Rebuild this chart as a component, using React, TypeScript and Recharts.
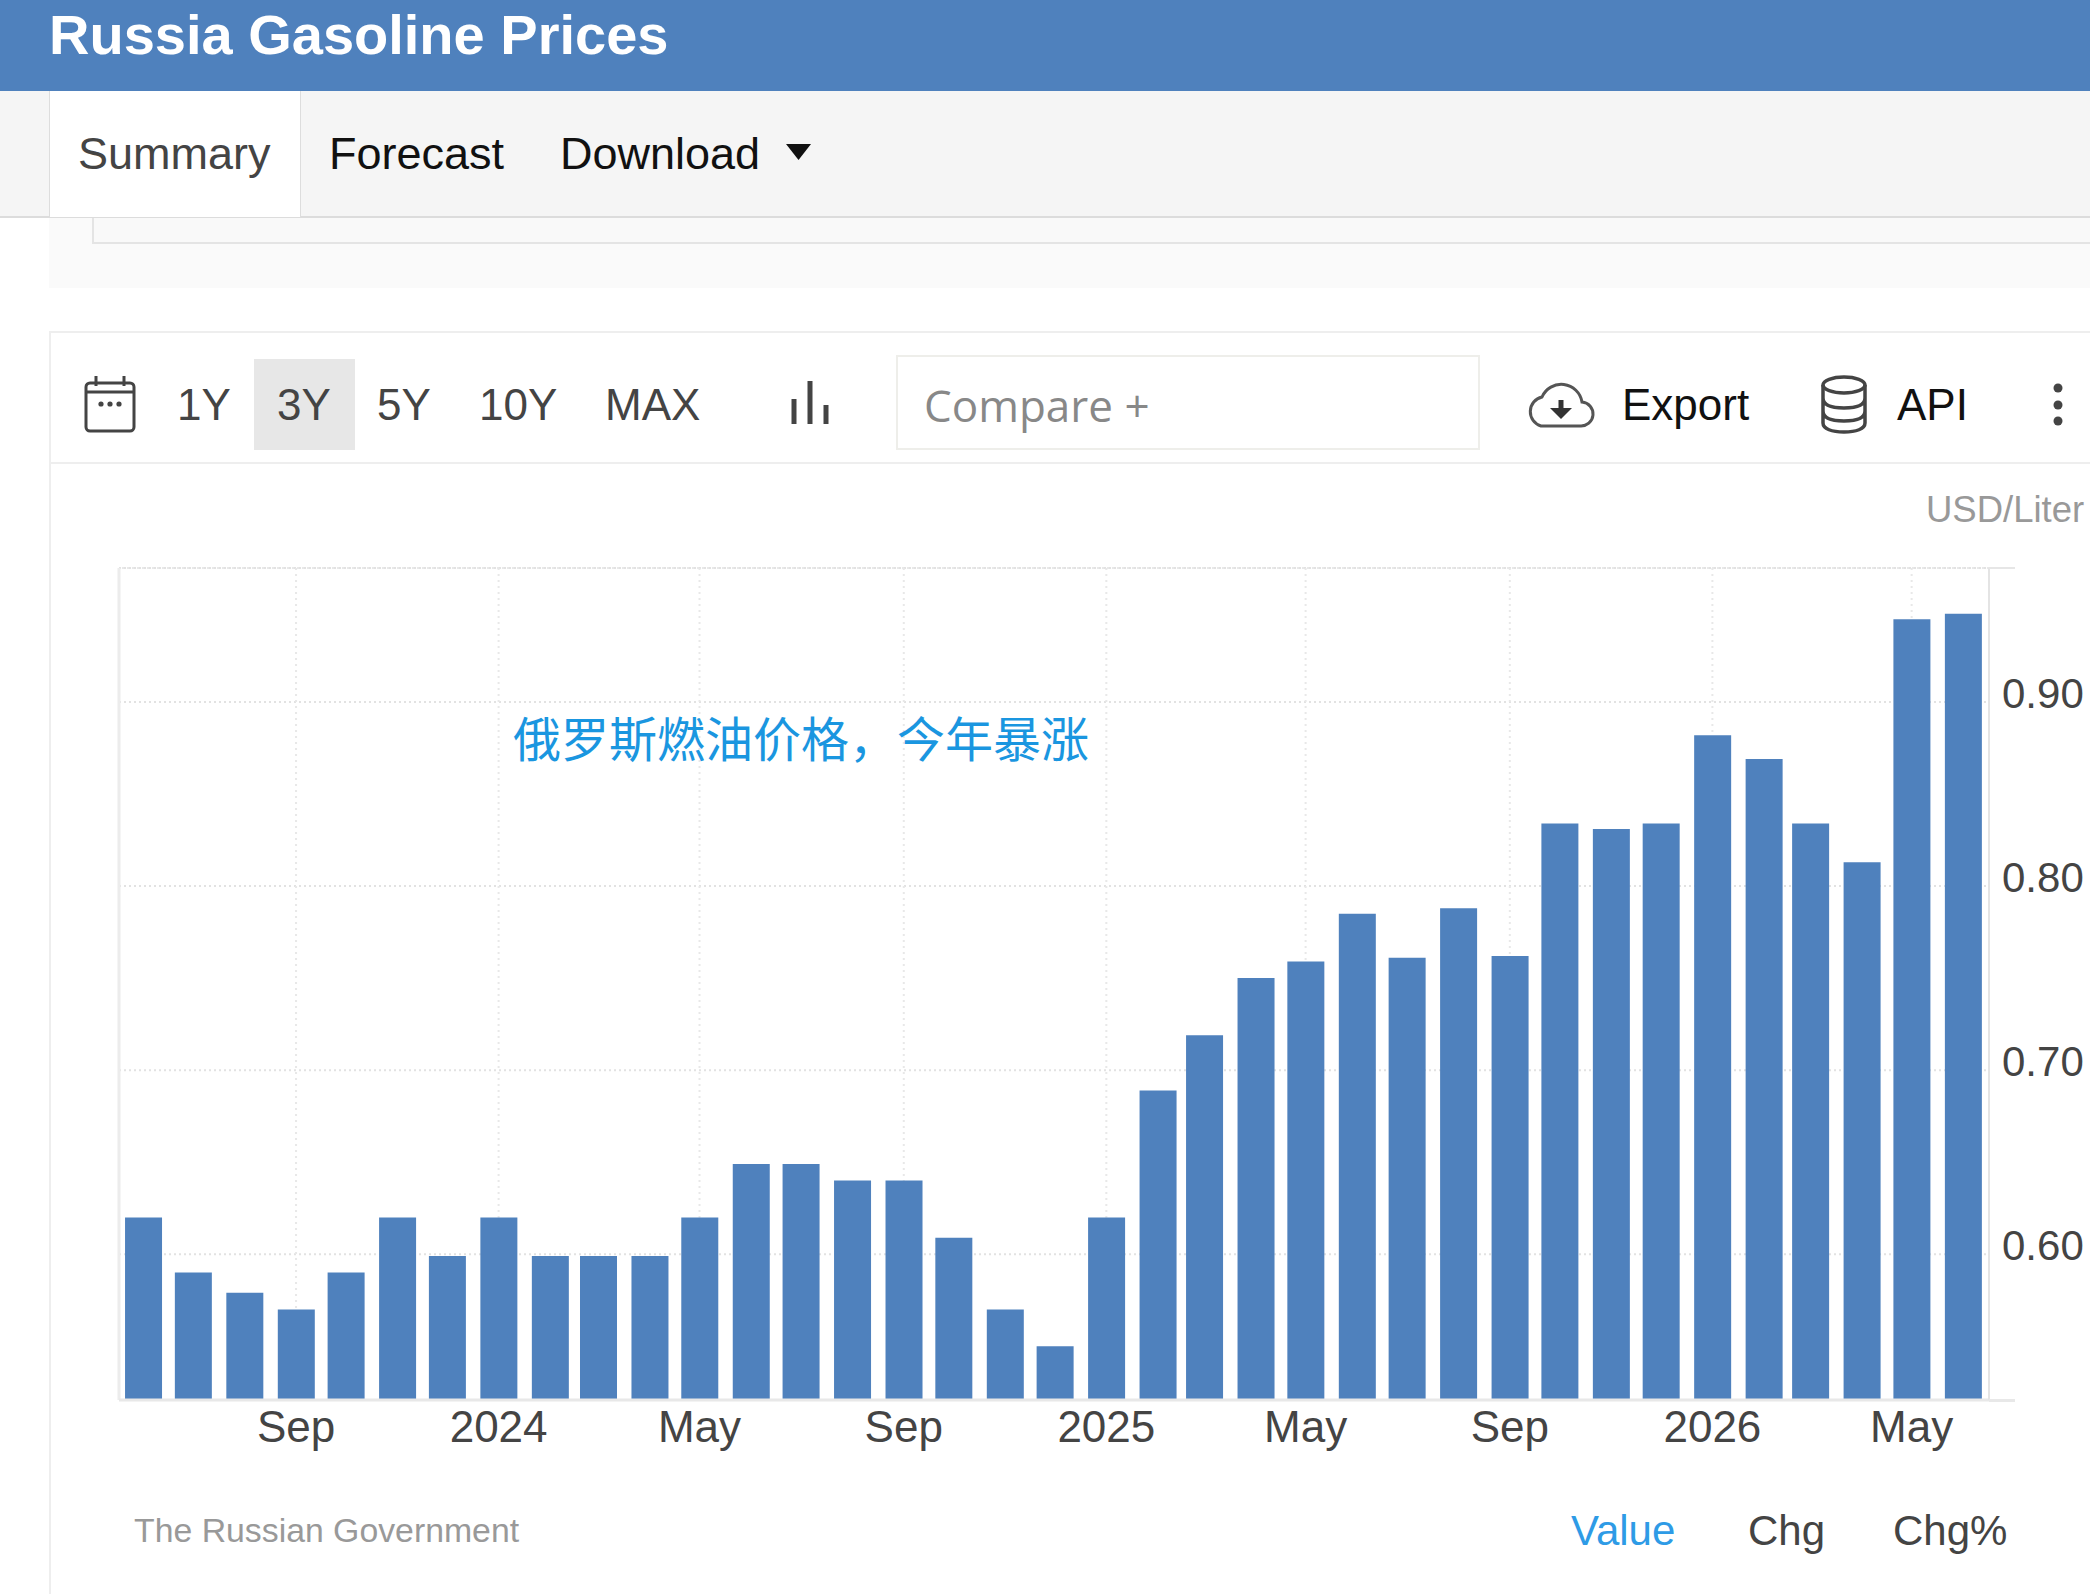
import { BarChart, Bar, XAxis, YAxis, CartesianGrid, ReferenceLine } from 'recharts';

const months = [
  '2023-06-01', '2023-07-01', '2023-08-01', '2023-09-01', '2023-10-01', '2023-11-01', '2023-12-01',
  '2024-01-01', '2024-02-01', '2024-03-01', '2024-04-01', '2024-05-01', '2024-06-01', '2024-07-01',
  '2024-08-01', '2024-09-01', '2024-10-01', '2024-11-01', '2024-12-01', '2025-01-01', '2025-02-01',
  '2025-03-01', '2025-04-01', '2025-05-01', '2025-06-01', '2025-07-01', '2025-08-01', '2025-09-01',
  '2025-10-01', '2025-11-01', '2025-12-01', '2026-01-01', '2026-02-01', '2026-03-01', '2026-04-01',
  '2026-05-01', '2026-06-01',
];

const prices = [
  0.62, 0.59, 0.579, 0.57, 0.59, 0.62, 0.599, 0.62, 0.599, 0.599, 0.599, 0.62, 0.649,
  0.649, 0.64, 0.64, 0.609, 0.57, 0.55, 0.62, 0.689, 0.719, 0.75, 0.759, 0.785, 0.761,
  0.788, 0.762, 0.834, 0.831, 0.834, 0.882, 0.869, 0.834, 0.813, 0.945, 0.948,
];

const tickDates = ['2023-09-01', '2024-01-01', '2024-05-01', '2024-09-01', '2025-01-01', '2025-05-01', '2025-09-01', '2026-01-01', '2026-05-01'];
const tickLabels = ['Sep', '2024', 'May', 'Sep', '2025', 'May', 'Sep', '2026', 'May'];
const yTicks = [0.6, 0.7, 0.8, 0.9];
const yDomain = [0.5208, 0.9728];
const xDomainDates = ['2023-05-17T09:00:00Z', '2026-06-16T14:00:00Z'];

const ts = (d: string) => new Date(d).getTime();
const chartData = months.map((m, i) => ({ time: ts(m), price: prices[i] }));
const xTicks = tickDates.map(ts);

const SANS = '"Liberation Sans", Arial, sans-serif';

// absolutely placed text, positioned by its baseline
const Label = ({ x, base, size, color = '#444', weight = 400, font = SANS, ratio = 0.8465, children }: any) => (
  <span
    style={{
      position: 'absolute', left: x, top: base - size * ratio, fontSize: size, lineHeight: `${size}px`,
      color, fontWeight: weight, fontFamily: font, whiteSpace: 'nowrap',
    }}
  >
    {children}
  </span>
);

const Box = ({ x, y, w, h, style }: any) => (
  <div style={{ position: 'absolute', left: x, top: y, width: w, height: h, ...style }} />
);

const Icons = () => (
  <svg width={2090} height={500} style={{ position: 'absolute', left: 0, top: 0 }} fill="none">
    {/* triangle */}
    <path d="M786 144 L811 144 L798.5 160 Z" fill="#111" />
    {/* calendar */}
    <rect x={86} y={383} width={48} height={48} rx={4} stroke="#444" strokeWidth={3} />
    <path d="M86 392 H134 M96 376 V386 M124 376 V386" stroke="#444" strokeWidth={3} />
    <circle cx={101} cy={404} r={2.6} fill="#444" />
    <circle cx={110} cy={404} r={2.6} fill="#444" />
    <circle cx={119} cy={404} r={2.6} fill="#444" />
    {/* bar type */}
    <path d="M794 399 V424 M810 381 V424 M826 405 V424" stroke="#444" strokeWidth={5} />
    {/* cloud */}
    <path d="M1541 426 H1580 A12 12 0 0 0 1582 402 A21 21 0 0 0 1542 397 A15 15 0 0 0 1541 426 Z" stroke="#555" strokeWidth={3} />
    <path d="M1561 400 V410" stroke="#333" strokeWidth={5} />
    <path d="M1550 408 H1572 L1561 419 Z" fill="#333" />
    {/* database */}
    <ellipse cx={1844} cy={385} rx={21} ry={8} stroke="#444" strokeWidth={3.5} />
    <path
      d="M1823 385 V423 C1823 429 1832 432 1844 432 C1856 432 1865 429 1865 423 V385 M1823 398 C1823 405 1832 408 1844 408 C1856 408 1865 405 1865 398 M1823 411 C1823 418 1832 421 1844 421 C1856 421 1865 418 1865 411"
      stroke="#444" strokeWidth={3.5}
    />
    {/* menu dots */}
    <circle cx={2058} cy={388} r={4.5} fill="#444" />
    <circle cx={2058} cy={405} r={4.5} fill="#444" />
    <circle cx={2058} cy={421} r={4.5} fill="#444" />
  </svg>
);

const App = () => (
  <div style={{ position: 'absolute', left: 0, top: 0, width: 2090, height: 1594, overflow: 'hidden', background: '#fff' }}>
    {/* page chrome */}
    <Box x={0} y={0} w={2090} h={91} style={{ background: '#4f81bd' }} />
    <Box x={0} y={91} w={2090} h={127} style={{ background: '#f5f5f5', borderBottom: '2px solid #dcdcdc', boxSizing: 'border-box' }} />
    <Box x={49} y={91} w={252} h={126} style={{ background: '#fff', borderLeft: '1px solid #ddd', borderRight: '1px solid #ddd', boxSizing: 'border-box' }} />
    <Box x={49} y={218} w={2041} h={70} style={{ background: '#fafafa' }} />
    <Box x={92} y={218} w={1998} h={26} style={{ background: '#f9f9f9', borderLeft: '2px solid #e4e4e4', borderBottom: '2px solid #e4e4e4', boxSizing: 'border-box' }} />
    <Box x={49} y={331} w={2041} h={133} style={{ borderTop: '2px solid #eee', borderBottom: '2px solid #eee', boxSizing: 'border-box' }} />
    <Box x={49} y={331} w={2} h={1263} style={{ background: '#eee' }} />
    <Box x={254} y={359} w={101} h={91} style={{ background: '#e7e7e7' }} />
    <Box x={896} y={355} w={584} h={95} style={{ border: '2px solid #eeeeea', boxSizing: 'border-box' }} />

    <Label x={49} base={54} size={56} color="#fff" weight={700}>Russia Gasoline Prices</Label>
    <Label x={78} base={169} size={45} color="#444">Summary</Label>
    <Label x={329} base={169} size={45} color="#111">Forecast</Label>
    <Label x={560} base={169} size={45} color="#111">Download</Label>
    <Label x={177} base={420} size={44}>1Y</Label>
    <Label x={277} base={420} size={44}>3Y</Label>
    <Label x={377} base={420} size={44}>5Y</Label>
    <Label x={479} base={420} size={44}>10Y</Label>
    <Label x={605} base={420} size={44}>MAX</Label>
    <Label x={924} base={422} size={44} color="#888" font='"Open Sans", sans-serif' ratio={0.888}>Compare +</Label>
    <Label x={1622} base={420} size={44} color="#111">Export</Label>
    <Label x={1897} base={420} size={44} color="#111">API</Label>
    <Label x={1926} base={523} size={36.5} color="#999">USD/Liter</Label>
    <Icons />

    {/* chart */}
    <div style={{ position: 'absolute', left: 0, top: 0 }}>
      <BarChart width={2090} height={1594} data={chartData} margin={{ top: 568, right: 1, bottom: 94, left: 119 }}>
        <CartesianGrid vertical={false} stroke="#e2e2e2" strokeWidth={2} strokeDasharray="2 3" />
        <CartesianGrid horizontal={false} stroke="#e8e8e8" strokeWidth={2} strokeDasharray="2 4" />
        <XAxis
          dataKey="time"
          type="number"
          scale="time"
          domain={xDomainDates.map(ts)}
          ticks={xTicks}
          tickFormatter={(t: number) => tickLabels[xTicks.indexOf(t)]}
          height={100}
          interval={0}
          tickLine={false}
          tickSize={0}
          tickMargin={11}
          axisLine={{ stroke: '#e8e8e8', strokeWidth: 3 }}
          tick={{ fontSize: 44, fill: '#444', fontFamily: SANS }}
        />
        <YAxis
          orientation="right"
          domain={yDomain}
          ticks={yTicks}
          allowDataOverflow
          width={100}
          tickLine={false}
          tickSize={0}
          tickMargin={13}
          tickFormatter={(v: number) => v.toFixed(2)}
          axisLine={{ stroke: '#e4e4e4', strokeWidth: 2 }}
          tick={{ fontSize: 42, fill: '#444', fontFamily: SANS, dy: -9 }}
        />
        <ReferenceLine y={yDomain[1]} stroke="#e8e8e8" strokeWidth={2} strokeDasharray="2 3" />
        <ReferenceLine x={ts(xDomainDates[0])} stroke="#ececec" strokeWidth={3} />
        <Bar dataKey="price" fill="#4f81bd" barSize={37} isAnimationActive={false} />
      </BarChart>
    </div>

    <Box x={1989} y={567} w={26} h={2} style={{ background: '#e6e6e6' }} />
    <Box x={1989} y={1399} w={26} h={3} style={{ background: '#e8e8e8' }} />

    <Label x={513} base={757} size={48} color="#1a96e0" font='"Noto Sans CJK SC", sans-serif' ratio={0.936}>俄罗斯燃油价格，今年暴涨</Label>

    <Label x={134} base={1543} size={33.8} color="#999">The Russian Government</Label>
    <Label x={1571} base={1546} size={42} color="#2e9be6">Value</Label>
    <Label x={1748} base={1546} size={42}>Chg</Label>
    <Label x={1893} base={1546} size={42}>Chg%</Label>
  </div>
);

export default App;
